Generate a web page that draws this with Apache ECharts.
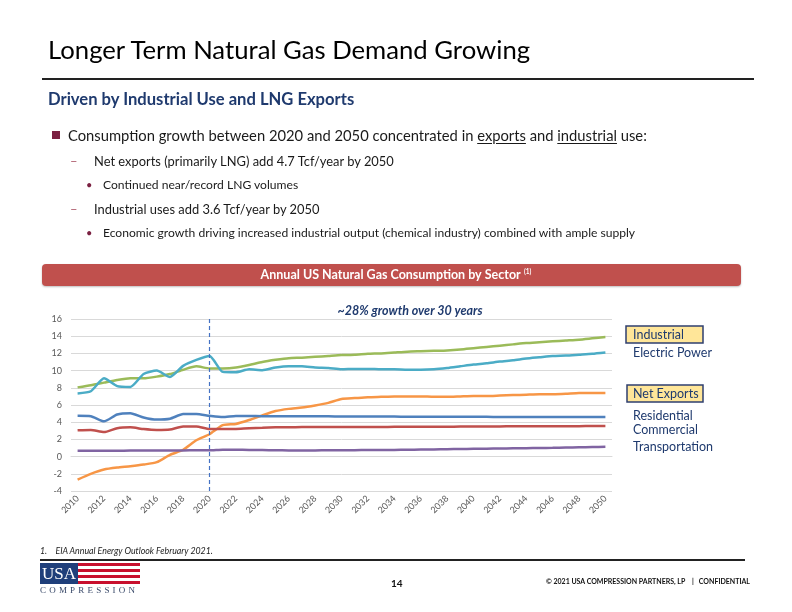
<!DOCTYPE html>
<html><head><meta charset="utf-8">
<script src="https://cdn.jsdelivr.net/npm/echarts@6/dist/echarts.min.js"></script>
<style>
body{margin:0;width:792px;height:612px;overflow:hidden;background:#fff;font-family:Lato,"Noto Sans",sans-serif;}
#chart{position:absolute;left:0;top:0;width:792px;height:612px;}
.t{position:absolute;white-space:nowrap;z-index:2;}
u{text-decoration:underline;text-underline-offset:2px;}
</style></head><body>
<div id="chart"></div>
<div class="t" style="left:48px;top:35px;font-size:25.7px;line-height:28px;color:#000;">Longer Term Natural Gas Demand Growing</div>
<div style="position:absolute;left:42px;top:78px;width:712px;height:2px;background:#222;"></div>
<div class="t" style="left:48px;top:90px;font-size:16.6px;line-height:18px;font-weight:bold;color:#1F3A6E;">Driven by Industrial Use and LNG Exports</div>
<div style="position:absolute;left:52px;top:131px;width:8px;height:8px;background:#7B2142;"></div>
<div class="t" style="left:68px;top:126px;font-size:14.75px;line-height:18px;color:#1a1a1a;">Consumption growth between 2020 and 2050 concentrated in <u>exports</u> and <u>industrial</u> use:</div>
<div class="t" style="left:70px;top:153px;font-size:13px;line-height:16px;color:#B06070;">–</div>
<div class="t" style="left:94px;top:153px;font-size:12.9px;line-height:16px;color:#1a1a1a;">Net exports (primarily LNG) add 4.7 Tcf/year by 2050</div>
<div class="t" style="left:86px;top:178px;font-size:11px;line-height:14px;color:#7B2142;">•</div>
<div class="t" style="left:103px;top:177px;font-size:12.1px;line-height:15px;color:#1a1a1a;">Continued near/record LNG volumes</div>
<div class="t" style="left:70px;top:201px;font-size:13px;line-height:16px;color:#B06070;">–</div>
<div class="t" style="left:94px;top:201px;font-size:12.9px;line-height:16px;color:#1a1a1a;">Industrial uses add 3.6 Tcf/year by 2050</div>
<div class="t" style="left:86px;top:226px;font-size:11px;line-height:14px;color:#7B2142;">•</div>
<div class="t" style="left:103px;top:225px;font-size:12.1px;line-height:15px;color:#1a1a1a;">Economic growth driving increased industrial output (chemical industry) combined with ample supply</div>

<div class="t" style="left:40px;top:546px;font-size:8.8px;line-height:10px;font-style:italic;color:#222;">1.&nbsp;&nbsp;&nbsp;&nbsp;EIA Annual Energy Outlook February 2021.</div>
<div style="position:absolute;left:40px;top:559px;width:705px;height:2px;background:#222;"></div>
<div style="position:absolute;left:40px;top:563px;width:38px;height:21px;background:#1F3F7A;color:#fff;font-family:'Liberation Serif','DejaVu Serif',serif;font-size:17px;line-height:21px;text-align:center;z-index:2;">USA</div>
<div style="position:absolute;left:78px;top:563px;width:62px;height:21px;background:repeating-linear-gradient(#C8102E 0px,#C8102E 3px,#fff 3px,#fff 6px);"></div>
<div class="t" style="left:40px;top:585px;font-family:'Liberation Serif','DejaVu Serif',serif;font-size:9px;line-height:10px;letter-spacing:3.2px;color:#3A4A6A;">COMPRESSION</div>
<div class="t" style="left:391px;top:577px;font-size:10px;line-height:12px;font-weight:bold;color:#111;">14</div>
<div class="t" style="left:546px;top:577px;font-size:7px;line-height:9px;font-weight:bold;color:#111;">© 2021 USA COMPRESSION PARTNERS, LP&nbsp;&nbsp;&nbsp;&nbsp;|&nbsp;&nbsp;&nbsp;CONFIDENTIAL</div>

<script>
const years = [];
for (let y = 2010; y <= 2050; y++) years.push(String(y));

const industrial = [8.05,8.3,8.6,8.9,9.1,9.1,9.3,9.6,10.1,10.5,10.25,10.25,10.35,10.65,11.0,11.25,11.45,11.5,11.6,11.7,11.8,11.85,11.95,12.0,12.1,12.2,12.25,12.3,12.35,12.45,12.6,12.75,12.9,13.05,13.2,13.3,13.4,13.5,13.6,13.75,13.9];
const electricPower = [7.35,7.6,9.1,8.2,8.1,9.6,10.0,9.25,10.55,11.25,11.7,9.85,9.8,10.15,10.05,10.35,10.5,10.5,10.35,10.3,10.15,10.2,10.2,10.15,10.15,10.1,10.1,10.15,10.3,10.5,10.7,10.85,11.05,11.2,11.4,11.55,11.7,11.75,11.85,11.95,12.1];
const netExports = [-2.67,-2.0,-1.5,-1.27,-1.12,-0.93,-0.65,0.2,0.8,1.9,2.6,3.65,3.8,4.25,4.8,5.3,5.55,5.7,5.95,6.25,6.7,6.8,6.9,6.95,7.0,7.0,7.0,6.95,6.95,7.0,7.05,7.05,7.1,7.15,7.2,7.25,7.25,7.3,7.4,7.4,7.4];
const residential = [4.75,4.7,4.1,4.9,5.05,4.55,4.3,4.4,4.95,4.95,4.75,4.6,4.72,4.72,4.7,4.7,4.7,4.7,4.68,4.68,4.66,4.66,4.65,4.65,4.65,4.64,4.64,4.63,4.63,4.62,4.62,4.62,4.61,4.61,4.6,4.6,4.6,4.6,4.6,4.6,4.6];
const commercial = [3.05,3.1,2.85,3.3,3.4,3.2,3.1,3.15,3.5,3.5,3.2,3.2,3.22,3.3,3.35,3.4,3.42,3.43,3.43,3.43,3.43,3.44,3.45,3.45,3.46,3.47,3.47,3.48,3.48,3.49,3.5,3.5,3.51,3.52,3.52,3.53,3.53,3.54,3.54,3.55,3.55];
const transportation = [0.68,0.68,0.68,0.67,0.7,0.7,0.7,0.7,0.72,0.73,0.73,0.8,0.8,0.78,0.76,0.74,0.72,0.72,0.72,0.73,0.74,0.75,0.76,0.77,0.78,0.8,0.82,0.84,0.86,0.88,0.9,0.92,0.94,0.96,0.98,1.0,1.02,1.05,1.08,1.11,1.14];

const seriesDefs = [
  {name:'Industrial', data:industrial, color:'#9BBB59'},
  {name:'Electric Power', data:electricPower, color:'#4BACC6'},
  {name:'Net Exports', data:netExports, color:'#F79646'},
  {name:'Residential', data:residential, color:'#4F81BD'},
  {name:'Commercial', data:commercial, color:'#C0504D'},
  {name:'Transportation', data:transportation, color:'#8064A2'}
];

const navy = '#1F3A6E';
const chart = echarts.init(document.getElementById('chart'), null, {renderer:'canvas'});
const series = seriesDefs.map((s, i) => ({
  name: s.name, type:'line', data:s.data, smooth:0.2, symbol:'none',
  lineStyle:{width:2.5, color:s.color}, itemStyle:{color:s.color}, z: 3,
  markLine: i === 0 ? {
    silent:true, symbol:'none', label:{show:false},
    lineStyle:{type:[4,3], color:'#4472C4', width:1.2},
    data:[{xAxis:'2020'}]
  } : undefined
}));

chart.setOption({
  animation:false,
  grid:{left:71, right:180, top:319, bottom:121},
  xAxis:{
    type:'category', data:years, boundaryGap:true,
    axisLine:{show:true, lineStyle:{color:'#D9D9D9'}}, axisTick:{show:false},
    axisLabel:{interval:1, rotate:45, fontSize:9, color:'#595959', fontFamily:'Lato', margin:6}
  },
  yAxis:{
    type:'value', min:-4, max:16, interval:2,
    axisLine:{show:false}, axisTick:{show:false},
    axisLabel:{fontSize:9, color:'#595959', fontFamily:'Lato', margin:9},
    splitLine:{lineStyle:{color:'#D9D9D9', width:1}}
  },
  series: series,
  graphic:[
    {type:'rect', shape:{x:42, y:264, width:699, height:22, r:4}, style:{fill:'#C0504D', shadowBlur:2, shadowColor:'rgba(0,0,0,0.25)', shadowOffsetY:1}},
    {type:'text', x:396, y:275, style:{
      text:'{a|Annual US Natural Gas Consumption by Sector} {s|(1)}',
      align:'center', verticalAlign:'middle',
      rich:{a:{fontSize:12.5, fontWeight:'bold', fill:'#fff', fontFamily:'Lato'}, s:{fontSize:6.5, fontWeight:'bold', fill:'#fff', fontFamily:'Lato', padding:[0,0,6,0]}}
    }},
    {type:'text', x:410, y:311, style:{text:'~28% growth over 30 years', align:'center', verticalAlign:'middle', fontSize:12.5, fontWeight:'bold', fontStyle:'italic', fill:navy, fontFamily:'Lato'}},
    {type:'rect', shape:{x:626, y:326, width:77, height:17}, style:{fill:'#FFE699', stroke:'#2F3F6F', lineWidth:1.5}},
    {type:'text', x:633, y:335, style:{text:'Industrial', verticalAlign:'middle', fontSize:12.5, fill:navy, fontFamily:'Lato'}},
    {type:'text', x:633, y:353, style:{text:'Electric Power', verticalAlign:'middle', fontSize:12.5, fill:navy, fontFamily:'Lato'}},
    {type:'rect', shape:{x:627, y:385, width:76, height:17}, style:{fill:'#FFE699', stroke:'#2F3F6F', lineWidth:1.5}},
    {type:'text', x:633, y:393.5, style:{text:'Net Exports', verticalAlign:'middle', fontSize:12.5, fill:navy, fontFamily:'Lato'}},
    {type:'text', x:633, y:416, style:{text:'Residential', verticalAlign:'middle', fontSize:12.5, fill:navy, fontFamily:'Lato'}},
    {type:'text', x:633, y:430, style:{text:'Commercial', verticalAlign:'middle', fontSize:12.5, fill:navy, fontFamily:'Lato'}},
    {type:'text', x:633, y:447, style:{text:'Transportation', verticalAlign:'middle', fontSize:12.5, fill:navy, fontFamily:'Lato'}}
  ]
});
</script>
</body></html>
